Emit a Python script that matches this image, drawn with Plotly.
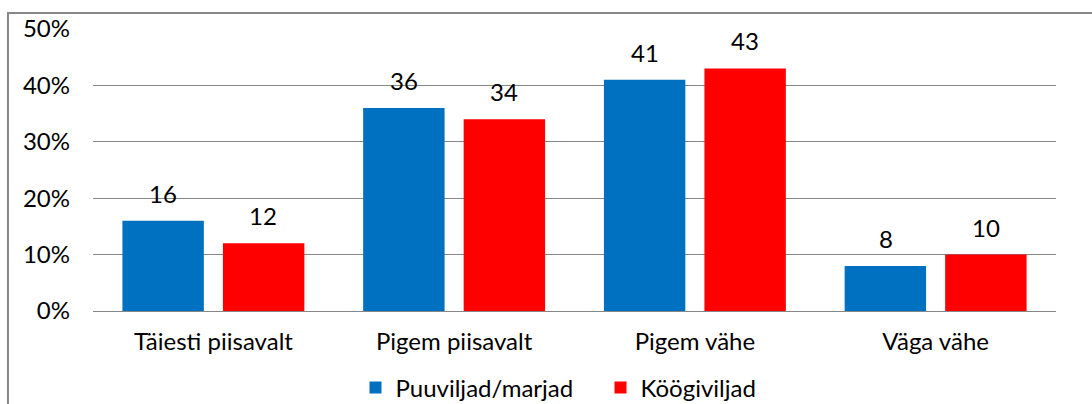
import plotly.graph_objects as go

categories = ["Täiesti piisavalt", "Pigem piisavalt", "Pigem vähe", "Väga vähe"]
series_names = ["Puuviljad/marjad", "Köögiviljad"]
puuviljad = [16, 36, 41, 8]
koogiviljad = [12, 34, 43, 10]
y_ticks = [0, 10, 20, 30, 40, 50]
y_tick_labels = ["0%", "10%", "20%", "30%", "40%", "50%"]

colors = ["#0070C0", "#FF0000"]
font_family = "Lato, 'Open Sans', sans-serif"
font_size = 24

fig = go.Figure()
for name, vals, col in zip(series_names, [puuviljad, koogiviljad], colors):
    fig.add_trace(go.Bar(x=categories, y=vals, name=name, marker_color=col,
                         marker_line_width=0))

# value labels above each bar
for vals, shift in [(puuviljad, -50), (koogiviljad, 50)]:
    for cat, v in zip(categories, vals):
        fig.add_annotation(x=cat, y=v, xref="x", yref="y", text=str(v),
                           showarrow=False, xshift=shift, yshift=11,
                           yanchor="bottom",
                           font=dict(family=font_family, size=font_size, color="#000"))

# chart border
fig.add_shape(type="rect", xref="paper", yref="paper",
              x0=-0.0883, x1=1.2, y0=-0.6, y1=1.0567,
              line=dict(color="#878787", width=2), fillcolor="rgba(0,0,0,0)")

fig.update_layout(
    width=1092, height=404,
    margin=dict(l=93, r=36, t=29, b=93, autoexpand=False),
    paper_bgcolor="white", plot_bgcolor="white",
    barmode="group", bargap=0.165, bargroupgap=0.19,
    font=dict(family=font_family, size=font_size, color="#000"),
    showlegend=True,
    legend=dict(orientation="h", x=0.527, xanchor="center", y=-0.273, yanchor="middle",
                font=dict(family=font_family, size=font_size, color="#000"),
                itemwidth=30, traceorder="normal",
                entrywidth=200, entrywidthmode="pixels"),
    xaxis=dict(showgrid=False, showline=False, ticks="", ticklabelstandoff=14,
               tickfont=dict(size=font_size)),
    yaxis=dict(range=[0, 50], tickvals=y_ticks, ticktext=y_tick_labels,
               showgrid=True, gridcolor="#878787", gridwidth=1.3,
               zeroline=True, zerolinecolor="#878787", zerolinewidth=1.3,
               showline=False, ticks="", ticklabelstandoff=22,
               tickfont=dict(size=font_size)),
)

fig.write_html("out.html")
